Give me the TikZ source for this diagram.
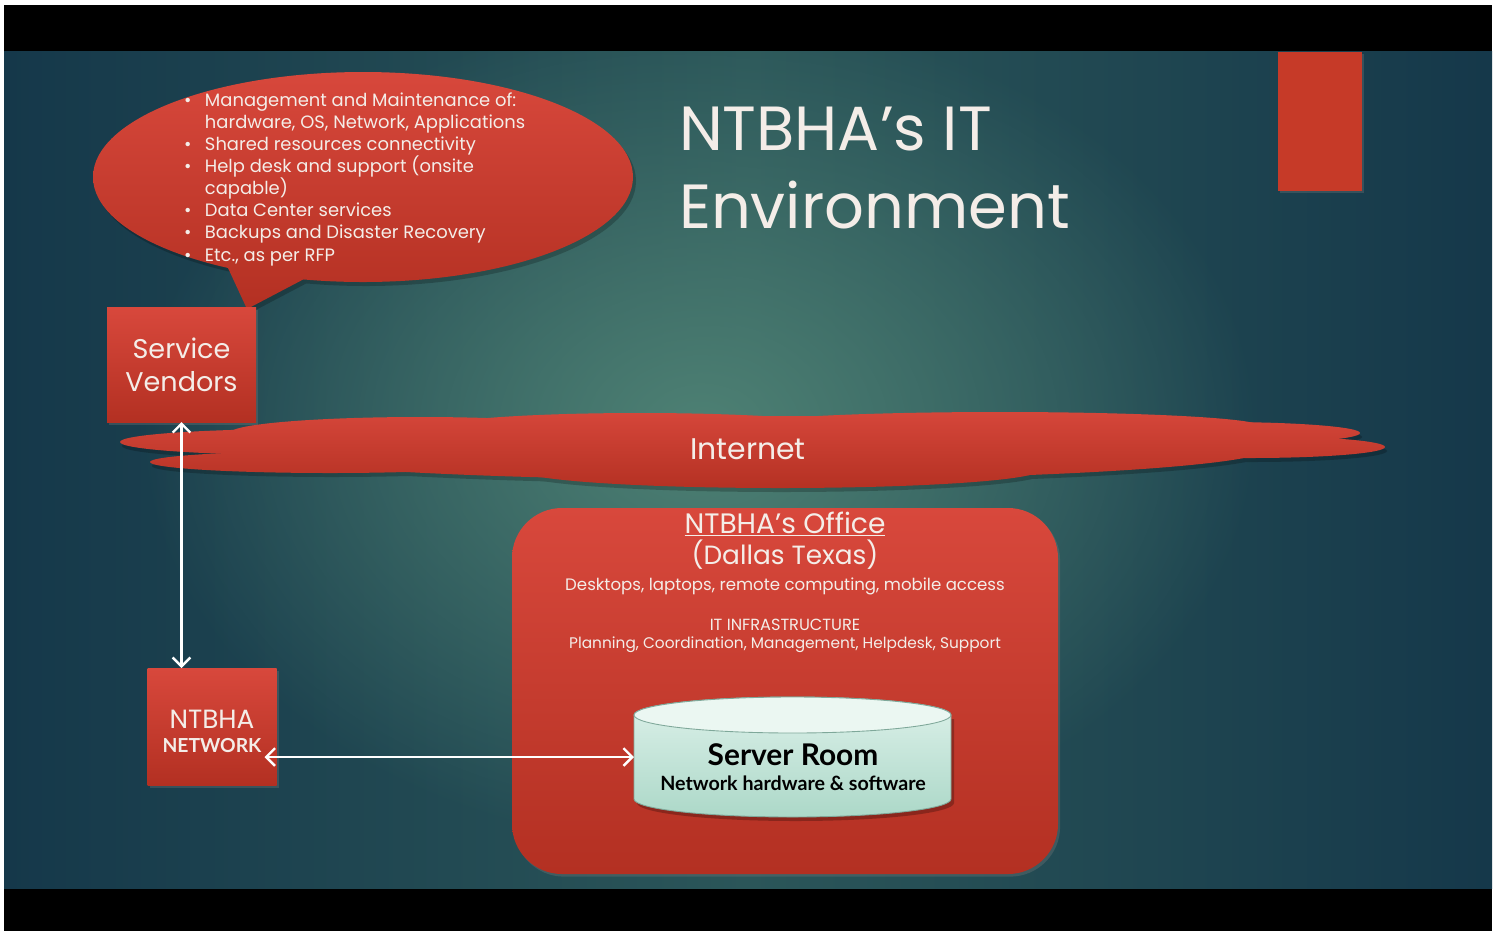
\documentclass[tikz,border=0pt]{standalone}
\usepackage{fontspec}
\setmainfont{Poppins}
\newfontfamily\bfam{Lato}
\usetikzlibrary{arrows.meta,fadings,shadows,calc}
\definecolor{bgdark}{HTML}{15384A}
\definecolor{bgmid}{HTML}{2B5659}
\definecolor{bglight}{HTML}{4E8174}
\definecolor{redtop}{HTML}{D8483C}
\definecolor{redbot}{HTML}{B33022}
\definecolor{redflat}{HTML}{C63A28}
\definecolor{txtc}{HTML}{F4EDE8}
\definecolor{mintT}{HTML}{DDF1EA}
\definecolor{mintB}{HTML}{ACD8C8}
\definecolor{cylEdge}{HTML}{7FA89A}
\tikzfading[name=glowfade, inner color=transparent!0, outer color=transparent!100]
\begin{document}
\begin{tikzpicture}[x=0.02cm,y=-0.02cm,
  every node/.style={inner sep=0pt, outer sep=0pt},
  lbl/.style={text=txtc},
  redbox/.style={top color=redtop, bottom color=redbot,
    drop shadow={shadow xshift=1.2pt, shadow yshift=-1.5pt, opacity=0.3}},
  link/.style={draw=white, line width=1.4pt, >={Straight Barb[length=5pt,width=10pt]}, <->}
]
\useasboundingbox (0,0) rectangle (1499,931);
% background
\fill[white] (0,0) rectangle (1499,931);
\fill[black] (4,5) rectangle (1492,931);
\begin{scope}
  \clip (4,51) rectangle (1492,888);
  \shade[left color=bgdark, right color=bgdark, middle color=bgmid] (4,51) rectangle (1492,888);
  \fill[bglight, path fading=glowfade, fit fading=true] (700,430) ellipse (560 and 420);
\end{scope}

% top-right decoration
\node[fill=redflat, minimum width=84*0.02cm, minimum height=139*0.02cm,
  drop shadow={shadow xshift=1.2pt, shadow yshift=-1.5pt, opacity=0.3}] (deco) at (1319.5,121) {};

% speech bubble
\begin{scope}[transparency group, opacity=0.22, shift={(3,4)}]
  \fill[black] (363,177) ellipse (270 and 105);
  \fill[black] (222,255) -- (325,268) -- (247,309) -- cycle;
\end{scope}
\begin{scope}
  \clip (363,177) ellipse (270 and 105);
  \shade[top color=redtop, bottom color=redbot] (90,68) rectangle (650,312);
\end{scope}
\begin{scope}
  \clip (222,255) -- (325,268) -- (247,309) -- cycle;
  \shade[top color=redtop, bottom color=redbot] (90,68) rectangle (650,312);
\end{scope}
\node[lbl, anchor=base west, align=left, font=\fontsize{10.2}{12.6}\selectfont] (bul) at (184,261)
 {\makebox[0.42cm][l]{•}Management and Maintenance of:\\
  \hspace*{0.42cm}hardware, OS, Network, Applications\\
  \makebox[0.42cm][l]{•}Shared resources connectivity\\
  \makebox[0.42cm][l]{•}Help desk and support (onsite\\
  \hspace*{0.42cm}capable)\\
  \makebox[0.42cm][l]{•}Data Center services\\
  \makebox[0.42cm][l]{•}Backups and Disaster Recovery\\
  \makebox[0.42cm][l]{•}Etc., as per RFP};

% title
\node[text=txtc, anchor=base west, font=\fontsize{35.5}{40}\selectfont] (title1) at (679,150) {NTBHA’s IT};
\node[text=txtc, anchor=base west, font=\fontsize{35.5}{40}\selectfont] (title2) at (679,228) {Environment};

% service vendors
\node[redbox, lbl, minimum width=149*0.02cm, minimum height=115*0.02cm, align=center,
  font=\fontsize{15.4}{18.7}\selectfont] (sv) at (181.5,364.5) {Service\\Vendors};

% internet cloud
\def\cloudlist{300/442/180/13, 330/462/180/11, 750/448/520/32, 420/433/190/16, 640/429/210/16,
  1000/426/260/14, 1220/433/140/11, 1250/447/135/11, 780/470/260/18}
\begin{scope}[transparency group, opacity=0.22, shift={(2,4)}]
  \foreach \cx/\cy/\rx/\ry in \cloudlist { \fill[black] (\cx,\cy) ellipse [x radius=\rx, y radius=\ry]; }
\end{scope}
\foreach \cx/\cy/\rx/\ry in \cloudlist {
  \begin{scope}
    \clip (\cx,\cy) ellipse [x radius=\rx, y radius=\ry];
    \shade[top color=redtop, bottom color=redbot] (100,405) rectangle (1400,492);
  \end{scope}
}
\node[lbl, font=\fontsize{17}{19}\selectfont] (inet) at (748,449) {Internet};

% NTBHA network
\node[redbox, minimum width=129*0.02cm, minimum height=117*0.02cm] (net) at (212,726.5) {};
\node[lbl, anchor=base, font=\fontsize{15}{17}\selectfont] (netT1) at (212,728) {NTBHA};
\node[lbl, anchor=base, font=\bfam\bfseries\fontsize{11}{13}\selectfont] (netT2) at (212,752) {NETWORK};

% office
\node[redbox, rounded corners=1cm, minimum width=546*0.02cm, minimum height=366*0.02cm] (off) at (785,691) {};
\node[lbl, anchor=base, font=\fontsize{16}{18}\selectfont] (ofc1) at (785,533) {\underline{NTBHA’s Office}};
\node[lbl, anchor=base, font=\fontsize{15}{18}\selectfont] (ofc2) at (785,564) {(Dallas Texas)};
\node[lbl, anchor=base, font=\fontsize{9.45}{11}\selectfont] (ofc3) at (785,590) {Desktops, laptops, remote computing, mobile access};
\node[lbl, anchor=base, font=\fontsize{9.2}{10}\selectfont] (ofc4) at (785,630) {IT INFRASTRUCTURE};
\node[lbl, anchor=base, font=\fontsize{8.75}{11}\selectfont] (ofc5) at (785,648) {Planning, Coordination, Management, Helpdesk, Support};

% server room cylinder
\fill[black, opacity=0.25] (637,719) -- (637,803) arc[start angle=180,end angle=0,x radius=158.5,y radius=18] -- (954,719) -- cycle;
\shade[top color=mintT, bottom color=mintB, draw=cylEdge, line width=0.5pt]
  (634,715) -- (634,799) arc[start angle=180,end angle=0,x radius=158.5,y radius=18]
  -- (951,715) arc[start angle=0,end angle=-180,x radius=158.5,y radius=18] -- cycle;
\filldraw[fill=mintT!60!white, draw=cylEdge, line width=0.5pt] (792.5,715) ellipse (158.5 and 18);
\node[minimum width=317*0.02cm, minimum height=120*0.02cm] (srv) at (792.5,757) {};
\node[anchor=base, font=\bfam\bfseries\fontsize{17}{19}\selectfont] (srvT1) at (793,765) {Server Room};
\node[anchor=base, font=\bfam\bfseries\fontsize{11.2}{12}\selectfont] (srvT2) at (793,790) {Network hardware \& software};

% connectors
\draw[link] (sv.south) -- (sv.south |- net.north);
\draw[link] ($(net.east |- srv.west)+(-12,0)$) -- (srv.west);
\end{tikzpicture}
\end{document}
